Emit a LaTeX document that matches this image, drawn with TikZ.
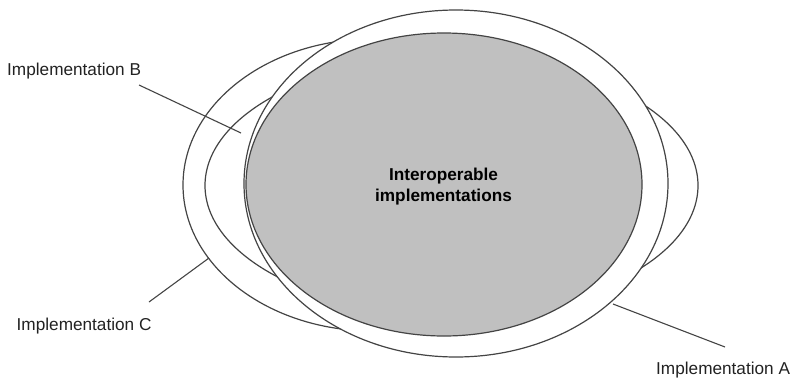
\documentclass[tikz,border=0pt]{standalone}
\usepackage{fontspec}
\setmainfont{Liberation Sans}
\usetikzlibrary{shapes.geometric}
\definecolor{edge}{HTML}{444444}
\definecolor{core}{HTML}{C0C0C0}
\definecolor{labeltext}{HTML}{222222}
\begin{document}
\begin{tikzpicture}[x=1pt,y=-1pt,
  setshape/.style={ellipse, draw=edge, line width=1.2pt, fill=white, inner sep=0pt, outer sep=0pt},
  coreshape/.style={setshape, fill=core},
  tag/.style={text=labeltext, font=\fontsize{17.2}{20}\selectfont, inner sep=0pt, anchor=base west},
  pointer/.style={draw=edge, line width=1.1pt}]
  \useasboundingbox (0,0) rectangle (792,378);

  % the three implementations, back to front
  \node[setshape, minimum width=380, minimum height=292] (ellC) at (373,185) {};
  \node[setshape, minimum width=493, minimum height=258] (ellB) at (451.5,185.5) {};
  \node[setshape, minimum width=424, minimum height=347] (ellA) at (456,183.5) {};

  % the common core
  \node[coreshape, minimum width=396, minimum height=303] (inter) at (444,184.5) {};
  \node[font=\bfseries\fontsize{17.2}{21}\selectfont, align=center, text=black] (intertext) at (443.5,187)
    {Interoperable\\implementations};

  % labels
  \node[tag] (labB) at (7,75) {Implementation B};
  \node[tag] (labC) at (16.5,330) {Implementation C};
  \node[tag] (labA) at (656,374) {Implementation A};

  % pointer ends
  \coordinate (pB0) at (139,85);
  \coordinate (pB1) at (241,133);
  \coordinate (pC0) at (149,302);
  \coordinate (pC1) at (209,258);
  \coordinate (pA0) at (725,347);
  \coordinate (pA1) at (613,304);

  \draw[pointer] (pB0) -- (pB1);
  \draw[pointer] (pC0) -- (pC1);
  \draw[pointer] (pA0) -- (pA1);
\end{tikzpicture}
\end{document}
